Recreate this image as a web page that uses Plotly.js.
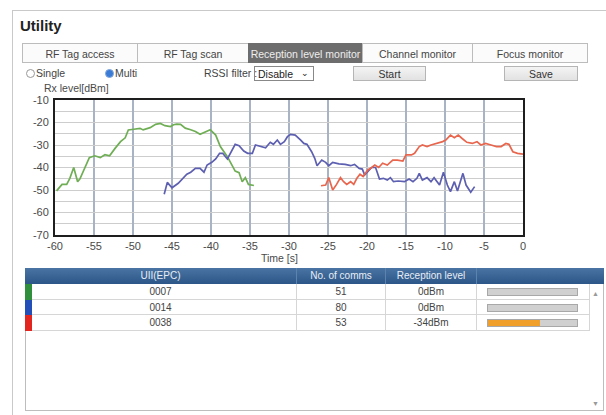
<!DOCTYPE html>
<html>
<head>
<meta charset="utf-8">
<script src="https://cdn.plot.ly/plotly-3.0.1.min.js"></script>
<style>
    body { margin: 0; width: 606px; height: 415px; overflow: hidden; background: #fff;
        font-family: 'Liberation Sans', Arial, sans-serif; color: #333; position: relative; }
    .abs { position: absolute; }
    #panel { left: 12px; top: 10px; width: 640px; height: 420px; border: 1px solid #c9c9c9; }
    #title { left: 20px; top: 17px; font-size: 15px; font-weight: bold; color: #222; }
    .tab { top: 43px; height: 20px; line-height: 20px; border: 1px solid #bcbcbc; background: #fbfbfb;
        font-size: 10.5px; text-align: center; color: #444; box-sizing: border-box; }
    .tab.active { background: #6d6d6d; color: #eee; border-color: #6d6d6d; }
    .ctl { top: 66px; font-size: 10.5px; line-height: 15px; color: #444; }
    .radio { top: 69px; width: 7px; height: 7px; border-radius: 50%; border: 1px solid #999; background: #fff; }
    .radio.on { background: #3a7bd5; border-color: #7fa7de; }
    .btn { top: 66px; height: 15px; line-height: 15px; border: 1px solid #b5b5b5; background: linear-gradient(#f4f4f4, #e2e2e2);
        font-size: 10.5px; text-align: center; color: #333; box-sizing: border-box; }
    #chart { left: 0; top: 82px; width: 606px; height: 182px; }
    #tbl { left: 25px; top: 268px; width: 579px; height: 143px; border: 1px solid #bdbdbd; box-sizing: border-box; }
    .hdr { top: 268px; height: 16px; line-height: 16px; background: linear-gradient(#4a74a3, #2c5687);
        color: #e8eef6; font-size: 10px; text-align: center; }
    .cell { height: 15px; line-height: 15px; font-size: 10px; color: #444; text-align: center;
        border-right: 1px solid #d6d6d6; border-bottom: 1px solid #d6d6d6; box-sizing: border-box; }
    .mark { width: 7px; }
    .bar { height: 8px; border: 1px solid #a8a8a8; background: #d0d0d0; box-sizing: border-box; }
    .fill { left: 0; top: 0; height: 100%; background: #f0a02a; }
    .arrow { left: 592px; font-size: 7px; color: #999; }
</style>
</head>
<body>
<div id="panel" class="abs"></div>
<div id="title" class="abs">Utility</div>
<div id="tabs"></div>
<div id="controls">
    <div class="abs radio" style="left:26px"></div>
    <div class="abs ctl" style="left:36px">Single</div>
    <div class="abs radio on" style="left:105px"></div>
    <div class="abs ctl" style="left:115px">Multi</div>
    <div class="abs ctl" style="left:204px">RSSI filter :</div>
    <div class="abs ctl" style="left:254px; width:60px; height:15px; border:1px solid #888; box-sizing:border-box; padding-left:3px; color:#222">Disable<span style="position:absolute; right:4px; top:-1px; font-size:9px">&#8964;</span></div>
    <div class="abs btn" style="left:353px; width:73px">Start</div>
    <div class="abs btn" style="left:504px; width:74px">Save</div>
</div>
<div id="chart" class="abs"></div>
<div id="tbl" class="abs"></div>
<div id="rows"></div>

<script>
// tab labels
const tabNames = ['RF Tag access', 'RF Tag scan', 'Reception level monitor', 'Channel monitor', 'Focus monitor'];
const activeTab = 2;

// tags (UII / EPC) and table values
const tagIds = ['0007', '0014', '0038'];
const tagColors = ['#6fae55', '#5d5fb0', '#e8664e'];
const markColors = ['#2f8f3c', '#2350b8', '#e2261f'];
const commCounts = [51, 80, 53];
const levelText = ['0dBm', '0dBm', '-34dBm'];
const levelFill = [0, 0, 0.58];

// reception level history, time [s] / level [dBm]
const t0007 = [-59.8, -59.1, -58.5, -58.1, -57.6, -57.1, -56.8, -56.1, -55.6, -54.9, -54.2, -53.6, -53.0, -52.3, -51.6,
    -51.0, -50.6, -49.9, -49.1, -48.7, -47.8, -47.1, -46.5, -45.9, -45.2, -44.8, -44.4, -43.9, -43.3, -42.6, -42.0,
    -41.4, -40.7, -40.1, -39.4, -38.8, -37.9, -37.3, -36.9, -36.4, -36.0, -35.6, -35.2, -34.5];
const v0007 = [-50.4, -47.5, -47.5, -44.8, -40.0, -46.3, -45.0, -39.6, -35.6, -34.8, -35.6, -34.3, -34.8, -31.5, -28.5,
    -26.8, -23.3, -23.0, -22.6, -23.3, -22.3, -20.8, -20.4, -21.4, -21.8, -21.0, -20.7, -20.8, -22.5, -23.2, -24.0,
    -25.2, -24.0, -23.2, -25.6, -30.7, -35.2, -38.9, -41.6, -42.3, -46.3, -44.5, -47.5, -48.0];

const t0014 = [-46.0, -45.6, -45.0, -44.6, -44.2, -43.1, -42.6, -42.0, -41.4, -40.9, -40.5, -39.9, -39.4, -38.9, -38.5,
    -37.9, -37.5, -36.9, -36.4, -35.8, -35.3, -34.7, -34.3, -33.7, -33.0, -32.4, -32.0, -31.5, -31.1, -30.6, -30.2,
    -29.8, -29.2, -28.5, -28.1, -27.7, -27.1, -26.7, -26.4, -25.8, -25.3, -24.9, -24.4, -23.6, -22.8, -22.1, -21.6,
    -21.0, -20.6, -20.3, -19.8, -19.4, -18.9, -18.4, -17.9, -17.4, -17.0, -16.6, -16.0, -15.2, -14.6, -14.1, -13.6,
    -13.3, -12.9, -12.3, -11.8, -11.4, -10.7, -10.2, -9.7, -9.3, -8.8, -8.4, -7.7, -7.3, -6.7, -6.2];
const v0014 = [-51.9, -46.6, -49.0, -47.8, -47.0, -43.0, -42.1, -40.4, -40.4, -42.1, -38.9, -37.7, -36.2, -33.7, -33.7,
    -36.2, -33.7, -29.7, -30.3, -32.7, -33.7, -33.7, -30.0, -30.7, -31.2, -28.8, -29.7, -27.8, -29.7, -28.5, -26.3,
    -25.3, -25.6, -27.8, -29.3, -29.7, -33.0, -35.9, -39.2, -36.7, -37.7, -39.2, -37.7, -38.4, -38.6, -39.2, -38.6,
    -40.4, -40.7, -43.3, -41.5, -40.0, -40.0, -45.1, -44.8, -45.6, -44.5, -46.3, -46.0, -46.3, -45.1, -46.3, -44.8,
    -42.6, -45.6, -44.5, -46.3, -44.5, -47.8, -42.1, -47.8, -50.7, -46.3, -50.4, -42.6, -47.8, -51.0, -48.5];

const t0038 = [-25.9, -25.3, -24.9, -24.4, -23.9, -23.4, -23.0, -22.6, -22.1, -21.7, -21.3, -20.9, -20.5, -19.9, -19.4,
    -19.0, -18.5, -18.0, -17.4, -16.7, -16.1, -15.4, -15.0, -14.3, -13.9, -13.3, -12.9, -12.3, -11.8, -10.9, -10.3,
    -9.9, -9.3, -8.8, -8.3, -7.8, -7.2, -6.5, -5.9, -5.4, -4.8, -4.1, -3.4, -2.8, -2.2, -1.8, -1.3, -0.7, 0.0];
const v0038 = [-48.1, -47.8, -44.5, -50.0, -47.5, -44.5, -46.3, -47.5, -46.3, -47.5, -44.8, -43.0, -44.0, -41.1, -40.0,
    -38.9, -40.0, -38.1, -38.9, -36.7, -36.7, -37.1, -34.4, -34.4, -33.7, -30.7, -30.0, -30.7, -30.0, -29.3, -28.5,
    -27.8, -25.6, -26.8, -25.6, -27.1, -28.8, -29.3, -28.5, -30.0, -29.3, -30.0, -30.7, -30.7, -29.3, -29.7, -33.0,
    -33.7, -34.1];

const xTicks = [-60, -55, -50, -45, -40, -35, -30, -25, -20, -15, -10, -5, 0];
const yTicks = [-70, -60, -50, -40, -30, -20, -10];

// --- tabs ---
const tabEdges = [22, 137, 248, 362, 472, 587];
const tabs = document.getElementById('tabs');
tabNames.forEach((name, i) => {
    const d = document.createElement('div');
    d.className = 'abs tab' + (i === activeTab ? ' active' : '');
    d.style.left = tabEdges[i] + 'px';
    d.style.width = (tabEdges[i + 1] - tabEdges[i] + 1) + 'px';
    d.textContent = name;
    tabs.appendChild(d);
});

// --- chart ---
const series = [
    { x: t0007, y: v0007, color: tagColors[0] },
    { x: t0014, y: v0014, color: tagColors[1] },
    { x: t0038, y: v0038, color: tagColors[2] }
];
const traces = series.map(s => ({
    x: s.x, y: s.y, type: 'scatter', mode: 'lines',
    line: { color: s.color, width: 1.7 }, hoverinfo: 'skip'
}));

const tickFont = { family: 'Liberation Sans, Arial, sans-serif', size: 11, color: '#4a4a4a' };
// plot area kept at x 55..523, y 100..235 of the page
const layout = {
    width: 606, height: 182,
    margin: { l: 55, r: 83, t: 18, b: 29 },
    paper_bgcolor: 'rgba(0,0,0,0)', plot_bgcolor: '#fff',
    showlegend: false,
    xaxis: {
        range: [-60, 0], tickvals: xTicks, ticktext: xTicks.map(String),
        showgrid: true, gridcolor: '#a8b4c6', gridwidth: 1.2,
        showline: true, mirror: true, linecolor: '#1e1e1e', linewidth: 2,
        zeroline: false, ticks: '', tickfont: tickFont, ticklabelstandoff: 0
    },
    yaxis: {
        range: [-70, -10], tickvals: yTicks, ticktext: yTicks.map(String),
        showgrid: true, gridcolor: '#cdcdcd', gridwidth: 1,
        minor: { dtick: 5, showgrid: true, gridcolor: '#cdcdcd', gridwidth: 1 },
        showline: true, mirror: true, linecolor: '#1e1e1e', linewidth: 2,
        zeroline: false, ticks: '', tickfont: tickFont, ticklabelstandoff: 2
    },
    annotations: [
        { text: 'Rx level[dBm]', xref: 'paper', yref: 'paper', x: 0, y: 1, xanchor: 'left', yanchor: 'bottom',
          xshift: -13, yshift: 4, showarrow: false, font: { ...tickFont, size: 10.5 } },
        { text: 'Time [s]', xref: 'paper', yref: 'paper', x: 0.479, y: 0, xanchor: 'center', yanchor: 'top',
          yshift: -15, showarrow: false, font: { ...tickFont, size: 10.5 } }
    ]
};
Plotly.newPlot('chart', traces, layout, { staticPlot: true, displayModeBar: false });

// --- table ---
const colEdges = [25, 297, 386, 477, 590];
const headers = ['UII(EPC)', 'No. of comms', 'Reception level', ''];
const rowTops = [284, 300, 315];
const rowH = [16, 15, 16];
const rows = document.getElementById('rows');
const add = (cls, css, txt) => {
    const d = document.createElement('div');
    d.className = 'abs ' + cls;
    Object.assign(d.style, css);
    if (txt !== undefined) d.textContent = txt;
    rows.appendChild(d);
    return d;
};
add('hdr', { left: '25px', width: '579px' });
headers.forEach((h, i) => {
    add('hdr', { left: colEdges[i] + 'px', width: (colEdges[i + 1] - colEdges[i]) + 'px', background: 'none',
        borderRight: i < 3 ? '1px solid #5d82ad' : 'none', boxSizing: 'border-box' }, h);
});
tagIds.forEach((id, r) => {
    const top = rowTops[r] + 'px', h = rowH[r] + 'px';
    const vals = [id, String(commCounts[r]), levelText[r], ''];
    vals.forEach((v, i) => {
        add('cell', { left: colEdges[i] + 'px', top: top, height: h, lineHeight: h,
            width: (colEdges[i + 1] - colEdges[i]) + 'px' }, v);
    });
    add('mark', { left: '25px', top: top, height: h, background: markColors[r] });
    const bar = add('bar', { left: '487px', width: '91px', top: (rowTops[r] + rowH[r] / 2 - 4) + 'px' });
    const f = document.createElement('div');
    f.className = 'abs fill';
    f.style.width = (levelFill[r] * 100) + '%';
    bar.appendChild(f);
});
add('arrow', { top: '290px' }, '\u25B2');
add('arrow', { top: '400px' }, '\u25BC');
</script>
</body>
</html>
